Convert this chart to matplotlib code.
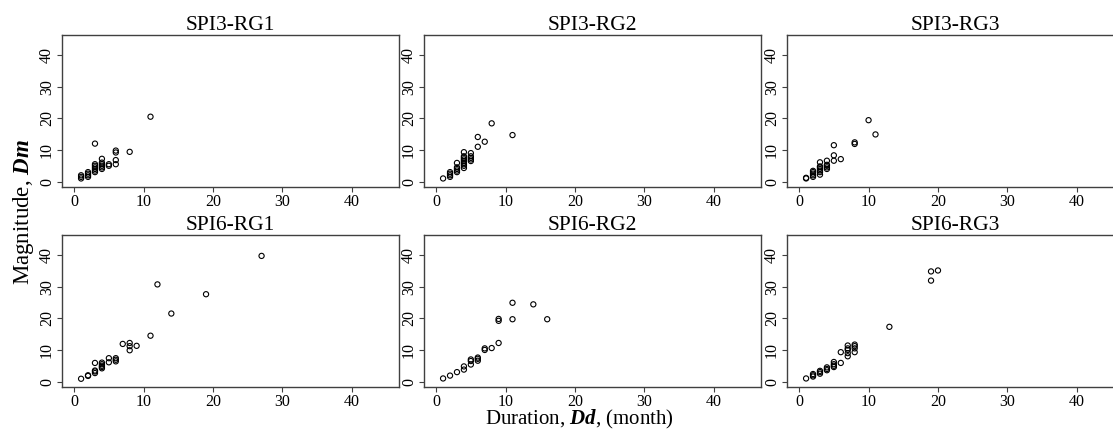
import matplotlib
matplotlib.use("Agg")
import matplotlib.pyplot as plt

plt.rcParams["font.family"] = ["Liberation Serif", "DejaVu Serif"]
plt.rcParams["mathtext.fontset"] = "custom"
plt.rcParams["mathtext.rm"] = "Liberation Serif"
plt.rcParams["mathtext.it"] = "Liberation Serif:italic"
plt.rcParams["mathtext.bf"] = "Liberation Serif:bold"
plt.rcParams["mathtext.bfit"] = "Liberation Serif:italic:bold"

# ---- data: duration (month) / magnitude ----
spi3_rg1_d = [1, 1, 1, 2, 2, 2, 2, 3, 3, 3, 3, 3, 3, 3, 4, 4, 4, 4, 4, 4,
              5, 5, 6, 6, 6, 6, 8, 11]
spi3_rg1_m = [1, 1.5, 2, 1.5, 2, 2.5, 3, 3, 3.5, 4, 4.5, 5, 5.5, 12, 4, 4.5, 5, 5.5, 6, 7.2,
              5, 5.5, 5.5, 6.8, 9.2, 9.8, 9.4, 20.5]

spi3_rg2_d = [1, 2, 2, 2, 2, 3, 3, 3, 3, 3, 4, 4, 4, 4, 4, 4, 4, 4, 4,
              5, 5, 5, 5, 5, 6, 6, 7, 8, 11]
spi3_rg2_m = [1, 1.5, 2, 2.5, 3, 3, 3.5, 4, 4.5, 5.9, 4.3, 5, 5.5, 6, 6.5, 7, 7.5, 8, 9.3,
              6.5, 7, 7.5, 8, 9, 14.1, 11, 12.6, 18.4, 14.7]

spi3_rg3_d = [1, 1, 2, 2, 2, 2, 2, 3, 3, 3, 3, 3, 3, 3, 4, 4, 4, 4, 4,
              5, 5, 5, 6, 8, 8, 10, 11]
spi3_rg3_m = [1, 1.2, 1.5, 2, 2.5, 3, 3.4, 2.2, 3, 3.5, 4, 4.5, 4.8, 6.1, 4, 4.5, 5, 5.3, 6.6,
              11.5, 8.3, 6.6, 7.1, 12.4, 11.9, 19.4, 14.9]

spi6_rg1_d = [1, 2, 2, 3, 3, 3, 3, 4, 4, 4, 4, 4, 5, 5, 6, 6, 6, 7, 8, 8, 8, 9,
              11, 12, 14, 19, 27]
spi6_rg1_m = [0.9, 1.8, 2, 2.7, 3.2, 3.5, 5.9, 4.2, 4.6, 5, 5.5, 6, 7.4, 6.1, 7.4, 6.9, 6.4,
              11.9, 12.2, 11.2, 9.9, 11.3, 14.5, 30.7, 21.5, 27.6, 39.7]

spi6_rg2_d = [1, 2, 3, 4, 4, 5, 5, 5, 6, 6, 6, 7, 7, 8, 9, 9, 9, 11, 11, 14, 16]
spi6_rg2_m = [1, 1.9, 3, 3.8, 4.8, 5.4, 6.5, 7, 6.6, 7.2, 7.6, 10, 10.5, 10.6, 12.2, 19.2,
              19.8, 24.9, 19.7, 24.4, 19.7]

spi6_rg3_d = [1, 2, 2, 2, 3, 3, 3, 4, 4, 4, 5, 5, 5, 5, 6, 6, 7, 7, 7, 7, 7,
              8, 8, 8, 8, 13, 19, 19, 20]
spi6_rg3_m = [1, 1.6, 2, 2.4, 2.5, 3, 3.4, 3.6, 4, 4.5, 4.6, 5, 5.5, 6.2, 9.3, 5.9,
              8, 9, 10, 10.5, 11.4, 9.3, 10.5, 11.2, 11.7, 17.3, 34.8, 31.9, 35.1]

titles = ["SPI3-RG1", "SPI3-RG2", "SPI3-RG3", "SPI6-RG1", "SPI6-RG2", "SPI6-RG3"]
durations = [spi3_rg1_d, spi3_rg2_d, spi3_rg3_d, spi6_rg1_d, spi6_rg2_d, spi6_rg3_d]
magnitudes = [spi3_rg1_m, spi3_rg2_m, spi3_rg3_m, spi6_rg1_m, spi6_rg2_m, spi6_rg3_m]
ticks = [0, 10, 20, 30, 40]

W, H = 1113, 432
fig = plt.figure(figsize=(W / 100, H / 100), dpi=100)

lefts = [62, 424, 787]     # pixel positions of the panels
tops = [35, 235]
pw, ph = 337, 152

EDGE = "#404040"

for i, (title, d, m) in enumerate(zip(titles, durations, magnitudes)):
    r, c = divmod(i, 3)
    ax = fig.add_axes([lefts[c] / W, 1 - (tops[r] + ph) / H, pw / W, ph / H])
    ax.scatter(d, m, s=14, facecolors="none", edgecolors="black", linewidths=0.8)
    ax.set_xlim(-1.75, 46.8)
    ax.set_ylim(-1.7, 46.3)
    ax.set_xticks(ticks)
    ax.set_yticks(ticks)
    ax.tick_params(direction="out", length=3.6, width=0.8, color=EDGE,
                   labelsize=11.5, pad=1.5)
    for lab in ax.get_yticklabels():
        lab.set_rotation(90)
        lab.set_va("center")
    for s in ax.spines.values():
        s.set_color(EDGE)
        s.set_linewidth(1.0)
    ax.set_title(title, fontsize=15.5, pad=2)

fig.text(0.521, 0.002, r"Duration, $\mathbfit{Dd}$, (month)", ha="center", va="bottom",
         fontsize=15)
fig.text(0.021, 0.51, r"Magnitude, $\mathbfit{Dm}$", ha="center", va="center",
         rotation=90, fontsize=16.5)

fig.savefig("out.png", dpi=100, facecolor="white")
